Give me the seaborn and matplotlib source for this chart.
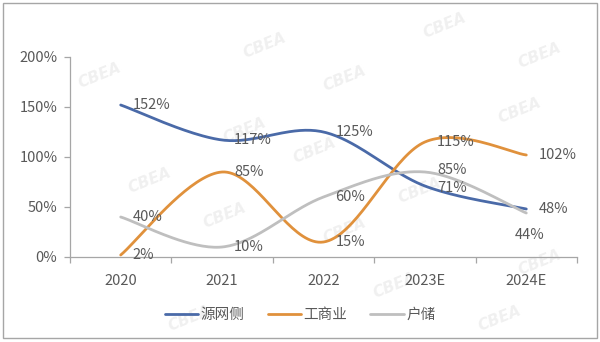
import numpy as np
import pandas as pd
import matplotlib
matplotlib.use("Agg")
import matplotlib.pyplot as plt
from matplotlib.patches import Rectangle
from matplotlib.lines import Line2D
from matplotlib.ticker import FixedLocator, FuncFormatter
import seaborn as sns

# Data: annual growth rates (%)
years = ["2020", "2021", "2022", "2023E", "2024E"]
grid_side = [152, 117, 125, 71, 48]      # 源网侧
commercial = [2, 85, 15, 115, 102]       # 工商业
household = [40, 10, 60, 85, 44]         # 户储
series_names = ["源网侧", "工商业", "户储"]
colors = ["#4a6aa8", "#e0913c", "#bfbfbf"]

sns.set_theme(style="white")
plt.rcParams["font.family"] = ["Noto Sans CJK SC", "DejaVu Sans"]
text_color = "#595959"


def smooth(xs, ys, n=40):
    """Cubic Bezier smoothing through every point (spreadsheet-style smoothed line)."""
    xs = np.asarray(xs, float)
    ys = np.asarray(ys, float)
    px = np.concatenate([[xs[0]], xs, [xs[-1]]])
    py = np.concatenate([[ys[0]], ys, [ys[-1]]])
    out_x, out_y = [], []
    t = np.linspace(0, 1, n)
    for i in range(len(xs) - 1):
        p0 = np.array([px[i + 1], py[i + 1]])
        p3 = np.array([px[i + 2], py[i + 2]])
        c1 = p0 + (p3 - np.array([px[i], py[i]])) / 6.0
        c2 = p3 - (np.array([px[i + 3], py[i + 3]]) - p0) / 6.0
        seg = ((1 - t) ** 3)[:, None] * p0 + (3 * (1 - t) ** 2 * t)[:, None] * c1 \
            + (3 * (1 - t) * t ** 2)[:, None] * c2 + (t ** 3)[:, None] * p3
        if i > 0:
            seg = seg[1:]
        out_x.extend(seg[:, 0])
        out_y.extend(seg[:, 1])
    return out_x, out_y


xpos = np.arange(len(years))
frames = []
for name, vals in zip(series_names, [grid_side, commercial, household]):
    sx, sy = smooth(xpos, vals)
    frames.append(pd.DataFrame({"x": sx, "y": sy, "系列": name}))
df = pd.concat(frames, ignore_index=True)

fig = plt.figure(figsize=(6.0, 3.42), dpi=100)
ax = fig.add_axes([70 / 600, 1 - 257 / 342, (577 - 70) / 600, 200 / 342])
ax.set_zorder(2)
ax.patch.set_alpha(0)

sns.lineplot(data=df, x="x", y="y", hue="系列", palette=colors, sort=False,
             estimator=None, units="系列", linewidth=2.0, ax=ax, legend=False)

ax.set_xlim(-0.5, len(years) - 0.5)
ax.set_ylim(0, 200)
ax.set_xlabel("")
ax.set_ylabel("")

# Axes styling
for s in ["top", "right"]:
    ax.spines[s].set_visible(False)
for s in ["left", "bottom"]:
    ax.spines[s].set_color("#a6a6a6")
    ax.spines[s].set_linewidth(0.9)

ax.yaxis.set_major_locator(FixedLocator([0, 50, 100, 150, 200]))
ax.yaxis.set_major_formatter(FuncFormatter(lambda v, p: f"{v:.0f}%"))
ax.tick_params(axis="y", which="major", direction="out", length=4, width=0.9,
               color="#a6a6a6", labelsize=10.5, labelcolor=text_color, pad=5, left=True)

# Category labels centred, tick marks between categories
ax.xaxis.set_major_locator(FixedLocator(xpos))
ax.set_xticklabels(years)
ax.xaxis.set_minor_locator(FixedLocator(np.arange(-0.5, len(years), 1.0)))
ax.tick_params(axis="x", which="major", length=0, labelsize=10.5, labelcolor=text_color, pad=12)
ax.tick_params(axis="x", which="minor", direction="out", length=4, width=0.9,
               color="#a6a6a6", bottom=True)
ax.grid(False)

# Data labels
label_offsets = {
    "源网侧": [(12, 0), (12, 0), (12, 0), (12, -2), (12, 0)],
    "工商业": [(12, 0)] * 5,
    "户储": [(12, 0), (12, 0), (12, 0), (12, 2), (-12, -22)],
}
for name, vals in zip(series_names, [grid_side, commercial, household]):
    for i, v in enumerate(vals):
        dx, dy = label_offsets[name][i]
        ax.annotate(f"{v}%", xy=(xpos[i], v), xytext=(dx, dy), textcoords="offset pixels",
                    ha="left", va="center", fontsize=10.5, color=text_color)

# Legend
handles = [Line2D([], [], color=c, linewidth=2.0) for c in colors]
leg = fig.legend(handles, series_names, loc="center", bbox_to_anchor=(0.5, 1 - 315 / 342),
                 ncol=3, frameon=False, fontsize=10.5, handlelength=2.3, handletextpad=0.15,
                 columnspacing=1.6)
for t in leg.get_texts():
    t.set_color(text_color)

# Faint background marks
marks = [(265, 45), (445, 25), (540, 55), (345, 78), (100, 75), (245, 130),
         (315, 150), (520, 110), (150, 180), (420, 190), (225, 215),
         (345, 230), (540, 262), (395, 285), (190, 318), (500, 318)]
for mx, my in marks:
    fig.text(mx / 600, 1 - my / 342, "CBEA", fontsize=11, fontweight="bold", style="italic",
             color="#f0f0f0", rotation=22, ha="center", va="center", zorder=0,
             family="DejaVu Sans")

# Outer frame
fig.patches.append(Rectangle((3 / 600, 4 / 342), 594 / 600, 335 / 342, transform=fig.transFigure,
                             fill=False, edgecolor="#a6a6a6", linewidth=1.0))

fig.savefig("out.png", dpi=100)
